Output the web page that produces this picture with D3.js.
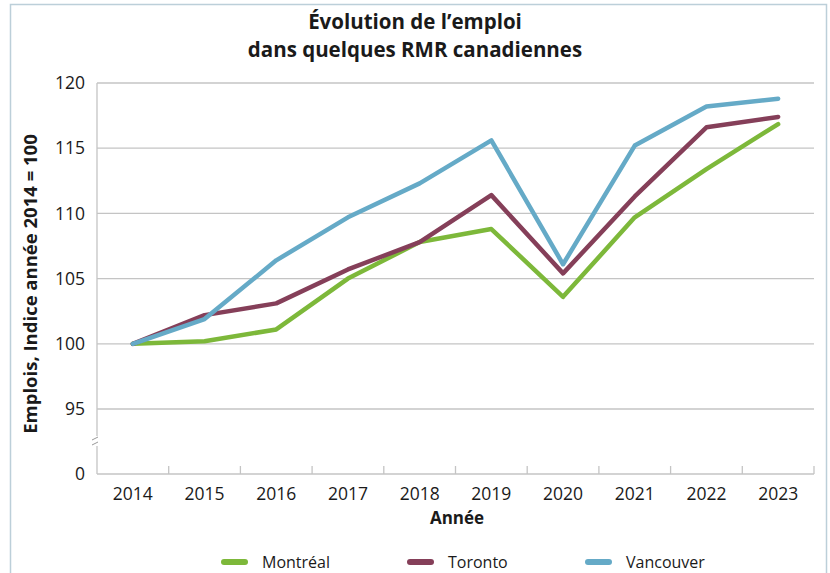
<!DOCTYPE html>
<html><head><meta charset="utf-8">
<script src="https://cdn.jsdelivr.net/npm/d3@7"></script>
<style>body{margin:0;background:#fff}svg{display:block}text{font-family:"Open Sans",sans-serif;fill:#1a1a1a}</style>
</head><body><svg id="c" width="830" height="573"></svg>
<script>
const years = ["2014","2015","2016","2017","2018","2019","2020","2021","2022","2023"];
const montreal  = [100, 100.2, 101.1, 105.0, 107.8, 108.8, 103.6, 109.7, 113.4, 116.85];
const toronto   = [100, 102.2, 103.1, 105.7, 107.8, 111.4, 105.4, 111.3, 116.6, 117.4];
const vancouver = [100, 101.9, 106.4, 109.7, 112.3, 115.6, 106.1, 115.2, 118.2, 118.8];
const yTicks = [0, 95, 100, 105, 110, 115, 120];
const seriesNames = ["Montréal", "Toronto", "Vancouver"];
const colors = ["#7db83a", "#853f59", "#65aac7"];
const series = [montreal, toronto, vancouver];

const svg = d3.select("#c");
// frame
svg.append("rect").attr("x",10.5).attr("y",4.5).attr("width",816).attr("height",580)
  .attr("fill","none").attr("stroke","#bccfd9").attr("stroke-width",1.5);

const L=97, R=814;
const x = d3.scaleBand().domain(years).range([L,R]);
const y = d3.scaleLinear().domain([0,95,120]).range([474,409,83]);

// gridlines
svg.append("g").selectAll("line").data(yTicks.filter(t=>t>=95)).join("line")
  .attr("x1",L).attr("x2",R).attr("y1",d=>y(d)).attr("y2",d=>y(d))
  .attr("stroke","#c4c4c4").attr("stroke-width",1.3);

// y axis
const ya = svg.append("g").attr("transform",`translate(${L},0)`)
  .call(d3.axisLeft(y).tickValues(yTicks).tickSize(0).tickPadding(12));
ya.select(".domain").remove();
ya.selectAll("text").style("font-size","17.5px").attr("fill","#1a1a1a");
svg.append("line").attr("x1",L).attr("x2",L).attr("y1",83).attr("y2",436).attr("stroke","#c4c4c4").attr("stroke-width",1.3);
svg.append("line").attr("x1",L).attr("x2",L).attr("y1",446).attr("y2",474).attr("stroke","#c4c4c4").attr("stroke-width",1.3);
// break marks
[0,5].forEach(o=>svg.append("line").attr("x1",L-5).attr("x2",L+1).attr("y1",440+o).attr("y2",437+o)
  .attr("stroke","#999").attr("stroke-width",1));

// x axis
const xa = svg.append("g").attr("transform","translate(0,474)")
  .call(d3.axisBottom(x).tickSize(0).tickPadding(14));
xa.select(".domain").attr("stroke","#c4c4c4").attr("stroke-width",1.3).attr("d",`M${L},0H${R}`);
xa.selectAll("text").style("font-size","17.5px").attr("fill","#1a1a1a");
svg.append("g").selectAll("line").data(years).join("line")
  .attr("x1",d=>x(d)+x.bandwidth()).attr("x2",d=>x(d)+x.bandwidth())
  .attr("y1",466).attr("y2",474).attr("stroke","#c4c4c4").attr("stroke-width",1.3);

// lines
const line = d3.line().x((d,i)=>x(years[i])+x.bandwidth()/2).y(d=>y(d));
series.forEach((s,k)=>{
  svg.append("path").datum(s).attr("d",line).attr("fill","none")
    .attr("stroke",colors[k]).attr("stroke-width",4.5).attr("stroke-linecap","round").attr("stroke-linejoin","round");
});

// titles
svg.append("text").attr("x",415).attr("y",29).attr("text-anchor","middle")
  .style("font-size","20.5px").style("font-weight","bold").text("Évolution de l’emploi");
svg.append("text").attr("x",415).attr("y",57).attr("text-anchor","middle")
  .style("font-size","20.5px").style("font-weight","bold").text("dans quelques RMR canadiennes");
svg.append("text").attr("x",457).attr("y",524).attr("text-anchor","middle")
  .style("font-size","17px").style("font-weight","bold").text("Année");
svg.append("text").attr("transform","translate(37,284) rotate(-90)").attr("text-anchor","middle")
  .style("font-size","18.5px").style("font-weight","bold").text("Emplois, Indice année 2014 = 100");

// legend
const lx = [221, 407, 585];
seriesNames.forEach((n,k)=>{
  svg.append("line").attr("x1",lx[k]+3).attr("x2",lx[k]+24).attr("y1",562).attr("y2",562)
    .attr("stroke",colors[k]).attr("stroke-width",6).attr("stroke-linecap","round");
  svg.append("text").attr("x",lx[k]+41).attr("y",568).style("font-size","16px").text(n);
});
</script></body></html>
